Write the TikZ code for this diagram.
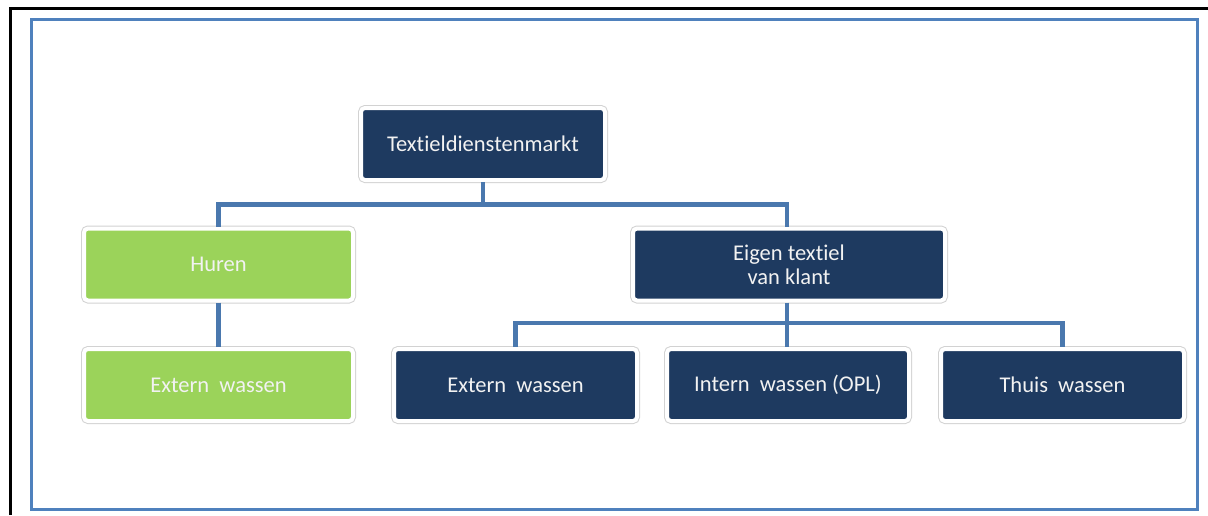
\documentclass[tikz,border=0pt]{standalone}
\usepackage{fontspec}
\setmainfont[Ligatures={NoCommon}]{Carlito}
\usepackage{xcolor}
\usepackage{tikz}
\usetikzlibrary{positioning}

\definecolor{navy}{HTML}{1E3A60}
\definecolor{leaf}{HTML}{9BD35A}
\definecolor{linkblue}{HTML}{4A78AE}
\definecolor{framblue}{HTML}{4F81BD}

\tikzset{
  box/.style={rectangle, rounded corners=4pt, minimum height=72pt, text=white!95!black,
    align=center, font=\fontsize{22.5}{24}\selectfont,
    preaction={draw=gray!35, line width=6pt}, draw=white, line width=4pt},
  darkbox/.style={box, fill=navy},
  greenbox/.style={box, fill=leaf},
  link/.style={draw=linkblue, line width=4.5pt}
}

\begin{document}
\begin{tikzpicture}[x=1pt, y=1pt]
  \useasboundingbox (0,0) rectangle (1208,-515);
  % frames
  \draw[line width=3pt] (10,-515) -- (10,-8) -- (1208,-8);
  \draw[framblue, line width=3pt] (31,-19) rectangle (1197,-509);

  % top level
  \node[darkbox, minimum width=244pt] (markt) at (483,-144) {Textieldienstenmarkt};

  % second level
  \node[greenbox, minimum width=269pt] (huren) at (218.5,-264.5) {Huren};
  \node[darkbox, minimum width=312pt] (eigen) at (789,-264.5) {Eigen textiel\\van klant};

  % third level
  \node[greenbox, minimum width=269pt] (hurenext) at (218.5,-385) {Extern~ wassen};
  \node[darkbox, minimum width=243pt] (eigenext) at (515.5,-385) {Extern~ wassen};
  \node[darkbox, minimum width=242pt] (eigenint) at (788,-385) {Intern~ wassen (OPL)};
  \node[darkbox, minimum width=243pt] (thuis) at (1062.5,-385) {Thuis~ wassen};

  % connectors
  \coordinate (split1) at (483,-204.5);
  \coordinate (split2) at (787,-323);
  \draw[link] (markt.south) -- (split1) -| (huren.north);
  \draw[link] (split1) -| (eigen.north -| split2);
  \draw[link] (huren.south) -- (hurenext.north);
  \draw[link] (eigen.south -| split2) -- (split2) -| (eigenext.north);
  \draw[link] (split2) -- (eigenint.north -| split2);
  \draw[link] (split2) -| (thuis.north);
\end{tikzpicture}
\end{document}
